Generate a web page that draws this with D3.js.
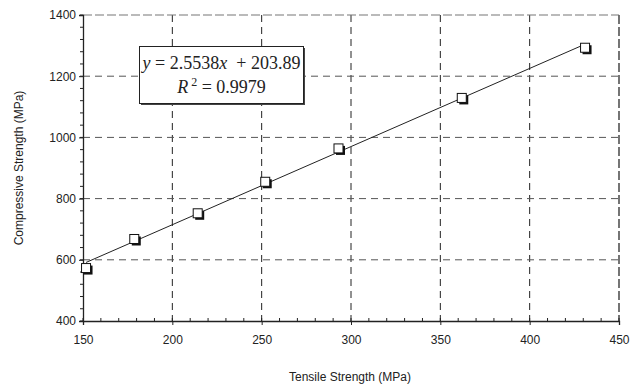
<!DOCTYPE html>
<html>
<head>
<meta charset="utf-8">
<script src="https://cdn.jsdelivr.net/npm/d3@7"></script>
<style>
  body { margin: 0; background: #fff; }
  text { font-family: Arial, "Liberation Sans", sans-serif; }
</style>
</head>
<body>
<div id="chart"></div>
<script>
// tensile vs compressive strength (MPa)
var tensile     = [151.7, 178.7, 214.2, 252, 293, 362, 431];
var compressive = [573, 668, 752, 855, 964, 1129, 1293];
var slope = 2.5538, intercept = 203.89, r2 = "0.9979";
var xTicks = [150, 200, 250, 300, 350, 400, 450];
var yTicks = [400, 600, 800, 1000, 1200, 1400];

var width = 638, height = 385;
var margin = {left: 83, right: 19, top: 15, bottom: 64};

var svg = d3.select("#chart").append("svg")
    .attr("width", width)
    .attr("height", height);

var x = d3.scaleLinear().domain([150, 450]).range([margin.left, width - margin.right]);
var y = d3.scaleLinear().domain([400, 1400]).range([height - margin.bottom, margin.top]);

var x0 = x.range()[0], x1 = x.range()[1];
var y0 = y.range()[0], y1 = y.range()[1];

// gridlines (dashed)
svg.append("g").selectAll("line").data(xTicks.slice(1, -1)).enter().append("line")
    .attr("x1", d => x(d)).attr("x2", d => x(d))
    .attr("y1", y1).attr("y2", y0)
    .attr("stroke", "#222").attr("stroke-width", 1)
    .attr("stroke-dasharray", "7,5");
svg.append("g").selectAll("line").data(yTicks.slice(1, -1)).enter().append("line")
    .attr("x1", x0).attr("x2", x1)
    .attr("y1", d => y(d)).attr("y2", d => y(d))
    .attr("stroke", "#555").attr("stroke-width", 1)
    .attr("stroke-dasharray", "7,5");

// top + right border
svg.append("line").attr("x1", x0).attr("x2", x1).attr("y1", y1).attr("y2", y1)
    .attr("stroke", "#777").attr("stroke-width", 1.2).attr("stroke-dasharray", "9,3");
svg.append("line").attr("x1", x1).attr("x2", x1).attr("y1", y1).attr("y2", y0)
    .attr("stroke", "#666").attr("stroke-width", 1.8).attr("stroke-dasharray", "9,3");

// minor ticks
var xMinor = d3.range(150, 451, 10);
svg.append("g").selectAll("line").data(xMinor).enter().append("line")
    .attr("x1", d => x(d)).attr("x2", d => x(d))
    .attr("y1", y0).attr("y2", y0 - 3)
    .attr("stroke", "#222");
var yMinor = d3.range(400, 1401, 40);
svg.append("g").selectAll("line").data(yMinor).enter().append("line")
    .attr("x1", x0 - 3).attr("x2", x0)
    .attr("y1", d => y(d)).attr("y2", d => y(d))
    .attr("stroke", "#222");

// axes
var xAxis = d3.axisBottom(x).tickValues(xTicks).tickFormat(d3.format("d")).tickSize(4).tickPadding(10);
var gx = svg.append("g").attr("transform", "translate(0," + y0 + ")").call(xAxis);
var yAxis = d3.axisLeft(y).tickValues(yTicks).tickFormat(d3.format("d")).tickSize(4).tickPadding(3);
var gy = svg.append("g").attr("transform", "translate(" + x0 + ",0)").call(yAxis);
[gx, gy].forEach(function(g) {
  g.select(".domain").attr("stroke", "#222").attr("stroke-width", 1.3);
  g.selectAll(".tick line").attr("stroke", "#222");
  g.selectAll(".tick text").attr("fill", "#222").style("font-size", "12px")
    .style("font-family", "Arial, 'Liberation Sans', sans-serif");
});

// axis titles
svg.append("text")
    .attr("x", 350).attr("y", 381)
    .attr("text-anchor", "middle")
    .attr("fill", "#222").style("font-size", "12px")
    .text("Tensile Strength (MPa)");
svg.append("text")
    .attr("transform", "translate(23,168) rotate(-90)")
    .attr("text-anchor", "middle")
    .attr("fill", "#222").style("font-size", "12px")
    .text("Compressive Strength (MPa)");

// trendline
var tx = d3.extent(tensile);
svg.append("line")
    .attr("x1", x(tx[0])).attr("y1", y(slope * tx[0] + intercept))
    .attr("x2", x(tx[1])).attr("y2", y(slope * tx[1] + intercept))
    .attr("stroke", "#222").attr("stroke-width", 1);

// markers with shadow
var pts = tensile.map((t, i) => ({t: t, c: compressive[i]}));
var s = 9;
svg.append("g").selectAll("rect").data(pts).enter().append("rect")
    .attr("x", d => x(d.t) - s / 2 + 2).attr("y", d => y(d.c) - s / 2 + 2)
    .attr("width", s).attr("height", s)
    .attr("fill", "#111");
svg.append("g").selectAll("rect").data(pts).enter().append("rect")
    .attr("x", d => x(d.t) - s / 2).attr("y", d => y(d.c) - s / 2)
    .attr("width", s).attr("height", s)
    .attr("fill", "#fff").attr("stroke", "#111").attr("stroke-width", 1);

// equation box
var bx = 139.5, by = 46.5, bw = 164, bh = 57;
svg.append("rect").attr("x", bx + 1.5).attr("y", by + 1.5).attr("width", bw).attr("height", bh)
    .attr("fill", "#444");
svg.append("rect").attr("x", bx).attr("y", by).attr("width", bw).attr("height", bh)
    .attr("fill", "#fff").attr("stroke", "#222").attr("stroke-width", 1);

var serif = "'Times New Roman', 'Liberation Serif', 'DejaVu Serif', serif";
var eq = svg.append("text").attr("x", bx + bw / 2).attr("y", 69)
    .attr("text-anchor", "middle").attr("fill", "#222")
    .style("font-family", serif).style("font-size", "18px")
    .attr("xml:space", "preserve").style("white-space", "pre");
eq.append("tspan").style("font-style", "italic").text("y");
eq.append("tspan").text(" = " + slope);
eq.append("tspan").style("font-style", "italic").text("x");
eq.append("tspan").text("  + " + intercept);

var rt = svg.append("text").attr("x", bx + bw / 2).attr("y", 93)
    .attr("text-anchor", "middle").attr("fill", "#222")
    .style("font-family", serif).style("font-size", "18px");
rt.append("tspan").style("font-style", "italic").text("R");
rt.append("tspan").attr("dy", -7).style("font-size", "12px").text(" 2");
rt.append("tspan").attr("dy", 7).text(" = " + r2);
</script>
</body>
</html>
